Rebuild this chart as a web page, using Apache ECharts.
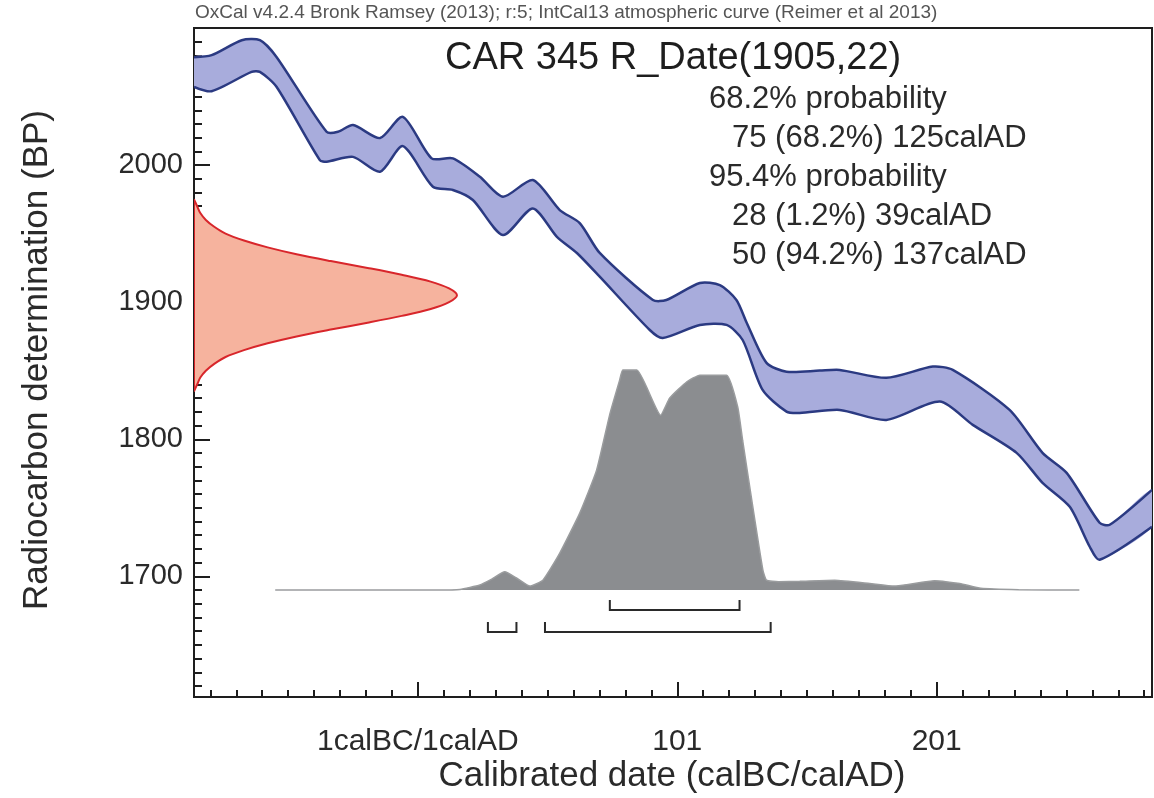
<!DOCTYPE html>
<html>
<head>
<meta charset="utf-8">
<title>CAR 345 R_Date(1905,22)</title>
<script src="https://cdn.jsdelivr.net/npm/echarts@6/dist/echarts.min.js"></script>
<style>
  html, body { margin: 0; padding: 0; background: #ffffff; }
  #chart { width: 1154px; height: 798px; }
</style>
</head>
<body>
<div id="chart"></div>
<script>
// ---- Axis ranges and ticks -------------------------------------------
const X_MIN = -85.3, X_MAX = 284;          // calendar years (AD)
const Y_MIN = 1612, Y_MAX = 2100;          // radiocarbon years BP
const xTickValues = [1, 101, 201];
const xTickLabels = ['1calBC/1calAD', '101', '201'];
const yTickValues = [1700, 1800, 1900, 2000];
const xMinorValues = [];
for (let v = -79; v <= 281; v += 10) xMinorValues.push(v);
const yMinorValues = [];
for (let v = 1620; v <= 2090; v += 10) yMinorValues.push(v);

// ---- IntCal13 band: upper and lower edges --------------------------------
const calUpperYear = [-85.3, -78.5, -66.9, -59.9, -53.5, -34.2, -29.8, -24, -13.6, -4.8, 6.3, 14.5, 24.9, 33.8, 45.3, 55.7, 63.4, 71.1, 91.6, 96.8, 109.7, 117.4, 123.8, 127.8, 135.4, 143.1, 155.9, 163.6, 181.6, 199.5, 207.2, 229.1, 241.8, 251.1, 263.8, 267.7, 284];
const calUpperBP   = [2078.7, 2080.2, 2091.1, 2091.1, 2078.9, 2024.3, 2024.3, 2029.2, 2019.7, 2035.2, 2004.9, 2004.9, 1991.5, 1976.9, 1989.1, 1967.2, 1957.7, 1935.9, 1901.6, 1901.6, 1914.0, 1912.5, 1901.6, 1884.8, 1855.7, 1849.3, 1850.1, 1850.6, 1844.8, 1853.0, 1850.6, 1821.4, 1790.1, 1775.5, 1739.1, 1737.6, 1763.1];
const calLowerYear = [-85.3, -78.5, -63.1, -59.9, -53.5, -36.8, -34.2, -24, -13.6, -4.8, 6.8, 14.5, 22.2, 33.8, 45.3, 54.6, 62.3, 71.1, 90.4, 95.4, 109.7, 120, 126.2, 133.9, 143.1, 148.2, 163.6, 181.6, 202.2, 214.9, 231.8, 241.8, 252.3, 260, 263.8, 284];
const calLowerBP   = [2057.1, 2053.9, 2068.0, 2068.0, 2057.1, 2003.6, 2002.4, 2006.0, 1995.1, 2013.8, 1984.2, 1981.8, 1974.5, 1949.0, 1968.4, 1947.7, 1935.9, 1918.6, 1879.7, 1873.9, 1883.4, 1883.4, 1872.4, 1836.0, 1820.2, 1819.2, 1821.4, 1814.1, 1827.5, 1810.5, 1790.1, 1768.2, 1750.7, 1721.6, 1712.1, 1736.2];

// ---- Radiocarbon measurement 1905 ± 22 BP (relative density) -------------
const rdBP      = [1975, 1970, 1965, 1960, 1955, 1950, 1945, 1940, 1935, 1930, 1925, 1920, 1915, 1910, 1905, 1900, 1895, 1890, 1885, 1880, 1875, 1870, 1865, 1860, 1855, 1850, 1845, 1840, 1835];
const rdDensity = [0, 0.012, 0.024, 0.045, 0.077, 0.12, 0.19, 0.28, 0.39, 0.52, 0.66, 0.79, 0.90, 0.97, 1.0, 0.97, 0.90, 0.79, 0.66, 0.52, 0.39, 0.28, 0.19, 0.12, 0.077, 0.045, 0.024, 0.012, 0];

// ---- Calibrated date distribution (relative density) ---------------------
const calDateYear    = [-54, 0, 9.5, 17.2, 24.9, 29.5, 34.5, 39, 44.2, 49.2, 55.7, 63.4, 69.9, 75, 78.8, 80, 85.4, 94.6, 98.1, 104.7, 109.7, 120, 124.3, 126.2, 130.1, 134, 135.4, 140, 148.2, 161.7, 175.2, 184.6, 200.2, 209.9, 218, 232.6, 256];
const calDateDensity = [0, 0, 0, 0.003, 0.023, 0.05, 0.083, 0.055, 0.018, 0.045, 0.168, 0.35, 0.545, 0.80, 0.955, 1.0, 1.0, 0.795, 0.873, 0.947, 0.977, 0.977, 0.833, 0.68, 0.379, 0.091, 0.045, 0.038, 0.04, 0.045, 0.03, 0.018, 0.042, 0.03, 0.008, 0.002, 0];

// ---- Highest posterior density ranges (calAD) ----------------------------
const hpdLevels = ['68.2', '95.4'];
const hpdFrom   = [[75], [28, 50]];
const hpdTo     = [[125], [39, 137]];
const hpdShare  = [['68.2'], ['1.2', '94.2']];

const FONT = '"Liberation Sans", Arial, Helvetica, sans-serif';
const TEXT = '#2a2a2a';

// Pair two arrays into [x, y] points.
const zip = (a, b) => a.map((v, i) => [v, b[i]]);

const calUpper = zip(calUpperYear, calUpperBP);
const calLower = zip(calLowerYear, calLowerBP);
const rdPoints = zip(rdDensity, rdBP);
const calDatePoints = zip(calDateYear, calDateDensity);

// A filled band between two edges plus its outlines, drawn through the axis scales.
function bandSeries(edgeA, edgeB, xAxisIndex, yAxisIndex, fill, stroke, width, smooth, z) {
  return {
    type: 'custom', xAxisIndex, yAxisIndex, z, clip: true, silent: true,
    data: [edgeA[0]],
    renderItem: (params, api) => {
      const a = edgeA.map(p => api.coord(p));
      const b = edgeB.map(p => api.coord(p));
      const children = [{
        type: 'polygon',
        shape: { points: a.concat(b.slice().reverse()), smooth: smooth },
        style: { fill: fill, stroke: null }
      }];
      [a, b].forEach(pts => {
        if (pts.length > 1) children.push({
          type: 'polyline',
          shape: { points: pts, smooth: smooth },
          style: { stroke: stroke, lineWidth: width, fill: null, lineJoin: 'round' }
        });
      });
      return { type: 'group', children: children };
    }
  };
}

// One item per range: [from, to, level index]
const hpdItems = [];
hpdLevels.forEach((lvl, li) => {
  hpdFrom[li].forEach((f, k) => hpdItems.push([f, hpdTo[li][k], li]));
});

// Summary text built from the same ranges as the brackets.
const infoLines = [];
hpdLevels.forEach((lvl, li) => {
  infoLines.push({ text: lvl + '% probability', indent: false });
  hpdFrom[li].forEach((f, k) => infoLines.push({
    text: f + ' (' + hpdShare[li][k] + '%) ' + hpdTo[li][k] + 'calAD', indent: true
  }));
});

const axisLineStyle = { color: '#1e1e1e', width: 2 };

const option = {
  animation: false,
  backgroundColor: '#ffffff',
  grid: {
    left: 194, right: 2, top: 28, bottom: 101,
    show: true, borderColor: '#1e1e1e', borderWidth: 2, backgroundColor: 'transparent'
  },
  xAxis: [
    {
      type: 'value', min: X_MIN, max: X_MAX, position: 'bottom',
      axisLine: { show: true, onZero: false, lineStyle: axisLineStyle },
      axisTick: { show: true, inside: true, length: 15, customValues: xTickValues, lineStyle: axisLineStyle },
      axisLabel: {
        customValues: xTickValues, margin: 30,
        formatter: v => xTickLabels[xTickValues.indexOf(v)],
        fontSize: 30, fontFamily: FONT, color: TEXT
      },
      splitLine: { show: false }
    },
    {
      type: 'value', min: X_MIN, max: X_MAX, position: 'bottom',
      axisLine: { show: false, onZero: false },
      axisTick: { show: true, inside: true, length: 7, customValues: xMinorValues, lineStyle: axisLineStyle },
      axisLabel: { show: false },
      splitLine: { show: false }
    },
    { type: 'value', min: 0, max: 3.643, show: false, splitLine: { show: false } }
  ],
  yAxis: [
    {
      type: 'value', min: Y_MIN, max: Y_MAX, position: 'left',
      axisLine: { show: true, onZero: false, lineStyle: axisLineStyle },
      axisTick: { show: true, inside: true, length: 16, customValues: yTickValues, lineStyle: axisLineStyle },
      axisLabel: {
        customValues: yTickValues, margin: 11,
        formatter: v => String(v),
        fontSize: 29, fontFamily: FONT, color: TEXT
      },
      splitLine: { show: false }
    },
    {
      type: 'value', min: Y_MIN, max: Y_MAX, position: 'left',
      axisLine: { show: false, onZero: false },
      axisTick: { show: true, inside: true, length: 8, customValues: yMinorValues, lineStyle: axisLineStyle },
      axisLabel: { show: false },
      splitLine: { show: false }
    },
    { type: 'value', min: -0.486, max: 2.555, show: false, splitLine: { show: false } }
  ],
  series: [
    // measurement (red) on the BP axis, closed against the y axis
    bandSeries(rdPoints, [rdPoints[rdPoints.length - 1], rdPoints[0]], 2, 0, '#f6b39e', '#d8262b', 2, 0.35, 2),
    // calibration curve band
    bandSeries(calUpper, calLower, 0, 0, '#a8acdc', '#2b3a82', 2.5, 0.25, 4),
    // calibrated date distribution
    {
      type: 'line', xAxisIndex: 0, yAxisIndex: 2, z: 6, data: calDatePoints,
      symbol: 'none', silent: true, smooth: 0.15,
      lineStyle: { color: '#9a9c9e', width: 1.5 },
      areaStyle: { color: '#8b8d90', opacity: 1 }
    },
    // probability range brackets below the distribution
    {
      type: 'custom', xAxisIndex: 0, yAxisIndex: 2, z: 7, silent: true,
      data: hpdItems,
      renderItem: (params, api) => {
        const a = api.coord([api.value(0), 0]);
        const b = api.coord([api.value(1), 0]);
        const base = a[1] + 20 + api.value(2) * 22;
        const top = base - 10;
        return {
          type: 'polyline',
          shape: { points: [[a[0], top], [a[0], base], [b[0], base], [b[0], top]] },
          style: { stroke: '#2a2a2a', lineWidth: 2, fill: null }
        };
      }
    }
  ],
  graphic: [
    {
      type: 'text', x: 195, y: 13, silent: true,
      style: {
        text: 'OxCal v4.2.4 Bronk Ramsey (2013); r:5; IntCal13 atmospheric curve (Reimer et al 2013)',
        fontSize: 19, fontFamily: FONT, fill: '#555555', align: 'left', verticalAlign: 'middle'
      }
    },
    {
      type: 'text', x: 445, y: 59, silent: true,
      style: {
        text: 'CAR 345 R_Date(1905,22)',
        fontSize: 38, fontFamily: FONT, fill: '#1e1e1e', align: 'left', verticalAlign: 'middle'
      }
    }
  ].concat(infoLines.map((ln, i) => ({
    type: 'text', x: ln.indent ? 732 : 709, y: 99 + i * 39.2, silent: true,
    style: {
      text: ln.text, fontSize: 31, fontFamily: FONT, fill: TEXT,
      align: 'left', verticalAlign: 'middle'
    }
  }))).concat([
    {
      type: 'text', x: 672, y: 776, silent: true,
      style: {
        text: 'Calibrated date (calBC/calAD)',
        fontSize: 35, fontFamily: FONT, fill: TEXT, align: 'center', verticalAlign: 'middle'
      }
    },
    {
      type: 'text', x: 37, y: 360, rotation: Math.PI / 2, silent: true,
      style: {
        text: 'Radiocarbon determination (BP)',
        fontSize: 35, fontFamily: FONT, fill: TEXT, align: 'center', verticalAlign: 'middle'
      }
    }
  ])
};

const chart = echarts.init(document.getElementById('chart'), null, { renderer: 'canvas' });
chart.setOption(option);
</script>
</body>
</html>
